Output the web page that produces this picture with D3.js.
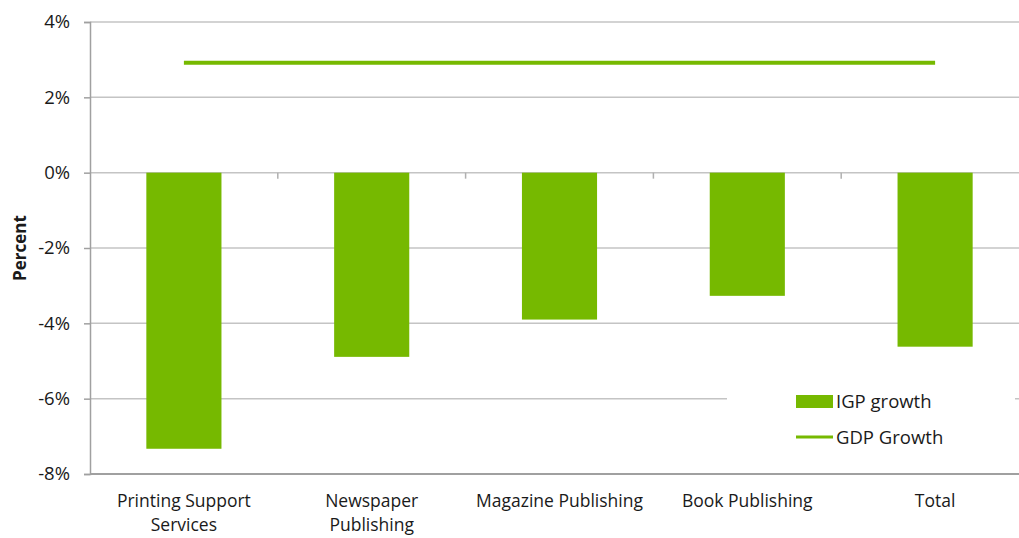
<!DOCTYPE html>
<html>
<head>
<meta charset="utf-8">
<script src="https://cdn.jsdelivr.net/npm/d3@7"></script>
<style>
  body { margin: 0; background: #fff; }
  text { font-family: "Open Sans", sans-serif; fill: #1a1a1a; }
</style>
</head>
<body>
<div id="chart"></div>
<script>
const categories = [['Printing Support', 'Services'], ['Newspaper', 'Publishing'], ['Magazine Publishing'], ['Book Publishing'], ['Total']]
const igpGrowth = [-7.33, -4.89, -3.9, -3.27, -4.62]
const gdpGrowth = 2.92
const yTicks = [4, 2, 0, -2, -4, -6, -8]
const legendLabels = ['IGP growth', 'GDP Growth']

const width = 1019
const height = 538
const margin = { top: 22, right: -10, bottom: 64, left: 90 }
const green = '#76b900'
const fontSize = '18.5px'

const svg = d3.select('#chart')
              .append('svg')
              .attr('width', width)
              .attr('height', height)

const keys = categories.map(c => c.join(' '))

const x = d3.scaleBand()
            .domain(keys)
            .range([margin.left, width - margin.right])
            .paddingInner(0)
            .paddingOuter(0)

const y = d3.scaleLinear()
            .domain([-8, 4])
            .range([height - margin.bottom, margin.top])

// gridlines
svg.append('g')
   .selectAll('line')
   .data(yTicks.filter(d => d !== -8))
   .enter()
   .append('line')
   .attr('x1', margin.left)
   .attr('x2', width - margin.right)
   .attr('y1', d => y(d))
   .attr('y2', d => y(d))
   .attr('stroke', '#c4c4c4')
   .attr('stroke-width', 1.5)

// left axis
const yAxis = svg.append('g')
   .attr('transform', `translate(${margin.left},0)`)
   .call(d3.axisLeft(y).tickValues(yTicks).tickSize(6).tickPadding(14).tickFormat(d => d + '%'))
yAxis.select('.domain').attr('stroke', '#a0a0a0').attr('stroke-width', 1.5)
yAxis.selectAll('.tick line').attr('stroke', '#a0a0a0').attr('stroke-width', 1.5)
yAxis.selectAll('.tick text').style('font-size', fontSize).attr('fill', '#1a1a1a')

// bars
svg.append('g')
   .selectAll('rect')
   .data(igpGrowth)
   .enter()
   .append('rect')
   .attr('x', (_, i) => x(keys[i]) + x.bandwidth() * 0.3)
   .attr('width', x.bandwidth() * 0.4)
   .attr('y', y(0))
   .attr('height', d => y(d) - y(0))
   .attr('fill', green)

// zero line category ticks
svg.append('g')
   .selectAll('line')
   .data(keys.slice(1))
   .enter()
   .append('line')
   .attr('x1', d => x(d))
   .attr('x2', d => x(d))
   .attr('y1', y(0))
   .attr('y2', y(0) + 6)
   .attr('stroke', '#b0b0b0')
   .attr('stroke-width', 1.5)

// bottom axis line
svg.append('line')
   .attr('x1', margin.left)
   .attr('x2', width - margin.right)
   .attr('y1', y(-8))
   .attr('y2', y(-8))
   .attr('stroke', '#a0a0a0')
   .attr('stroke-width', 2)

// category labels
const labels = svg.append('g')
   .selectAll('text')
   .data(categories)
   .enter()
   .append('text')
   .attr('x', (_, i) => x(keys[i]) + x.bandwidth() / 2)
   .attr('y', y(-8) + 33)
   .attr('text-anchor', 'middle')
   .style('font-size', '17.5px')
labels.selectAll('tspan')
   .data(d => d)
   .enter()
   .append('tspan')
   .attr('x', function () { return d3.select(this.parentNode).attr('x') })
   .attr('dy', (_, i) => i === 0 ? 0 : 24)
   .text(d => d)

// GDP line
svg.append('line')
   .attr('x1', x(keys[0]) + x.bandwidth() / 2)
   .attr('x2', x(keys[keys.length - 1]) + x.bandwidth() / 2)
   .attr('y1', y(gdpGrowth))
   .attr('y2', y(gdpGrowth))
   .attr('stroke', green)
   .attr('stroke-width', 4)

// y label
svg.append('text')
   .attr('transform', `translate(26, ${y(-2)}) rotate(-90)`)
   .attr('text-anchor', 'middle')
   .style('font-size', '17px')
   .style('font-weight', 'bold')
   .text('Percent')

// legend
const legend = svg.append('g')
legend.append('rect')
   .attr('x', 727).attr('y', 378)
   .attr('width', 288).attr('height', 78)
   .attr('fill', '#fff')
legend.append('rect')
   .attr('x', 796).attr('y', 395)
   .attr('width', 37).attr('height', 13)
   .attr('fill', green)
legend.append('line')
   .attr('x1', 796).attr('x2', 833)
   .attr('y1', 437).attr('y2', 437)
   .attr('stroke', green).attr('stroke-width', 3)
legend.selectAll('text.leg')
   .data(legendLabels)
   .enter()
   .append('text')
   .attr('class', 'leg')
   .attr('x', 836)
   .attr('y', (_, i) => 408 + i * 36)
   .style('font-size', fontSize)
   .text(d => d)
</script>
</body>
</html>
